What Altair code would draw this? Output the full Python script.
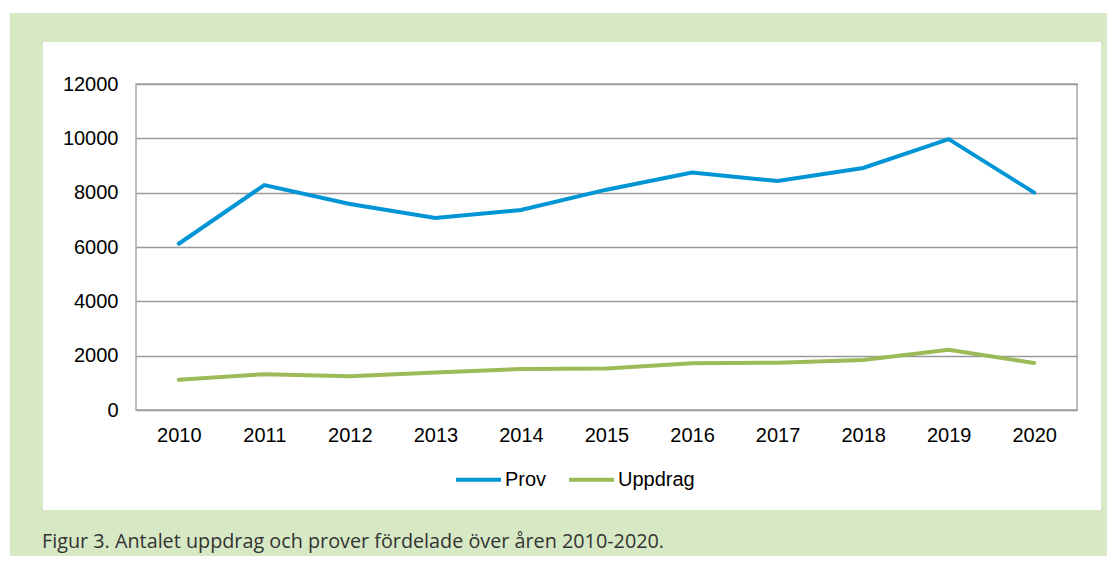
import altair as alt
import pandas as pd

years = ["2010", "2011", "2012", "2013", "2014", "2015", "2016", "2017", "2018", "2019", "2020"]
prov = [6120, 8280, 7580, 7070, 7360, 8110, 8740, 8430, 8910, 9970, 8000]
uppdrag = [1110, 1320, 1240, 1380, 1510, 1530, 1720, 1740, 1840, 2220, 1730]
series_names = ["Prov", "Uppdrag"]
series_colors = ["#0096d6", "#9bbb59"]
y_ticks = [0, 2000, 4000, 6000, 8000, 10000, 12000]
caption = "Figur 3. Antalet uppdrag och prover fördelade över åren 2010-2020."

rows = []
for i, yr in enumerate(years):
    rows.append({"year": yr, "series": series_names[0], "value": prov[i]})
    rows.append({"year": yr, "series": series_names[1], "value": uppdrag[i]})
df = pd.DataFrame(rows)

W, H = 941, 326
PAD_L, PAD_T, PAD_R, PAD_B = 128, 76, 30, 146
GREEN = "#d7e8c4"

one = pd.DataFrame({"k": [0]})


def strip(x1, x2, y1, y2):
    return alt.Chart(one).mark_rect(color=GREEN, clip=False).encode(
        x=alt.value(x1), x2=alt.value(x2), y=alt.value(y1), y2=alt.value(y2)
    )


# green frame around the white box
frame = [
    strip(-126, W + PAD_R, -71, -42),
    strip(-126, W + PAD_R, 426, H + PAD_B),
    strip(-126, -93, -42, 426),
    strip(965, W + PAD_R, -42, 426),
]

cap = alt.Chart(pd.DataFrame({"t": [caption]})).mark_text(
    align="left", baseline="alphabetic", font="Open Sans", fontSize=19.8, color="#333333"
).encode(x=alt.value(-94), y=alt.value(464), text="t:N")

lines = alt.Chart(df).mark_line(strokeWidth=4, strokeCap="round", strokeJoin="miter").encode(
    x=alt.X("year:O", sort=years, scale=alt.Scale(paddingInner=1, paddingOuter=0.5, padding=0.5),
            axis=alt.Axis(title=None, labelAngle=0, labelFont="Liberation Sans", labelFontSize=20,
                          labelColor="#000000", labelPadding=15, ticks=False, domain=False, grid=False)),
    y=alt.Y("value:Q", scale=alt.Scale(domain=[0, 12000], nice=False),
            axis=alt.Axis(title=None, values=y_ticks, format="d", labelFont="Liberation Sans",
                          labelFontSize=20, labelColor="#000000", labelPadding=18, ticks=False,
                          domain=False, gridColor="#9a9a9a", gridWidth=1.3)),
    color=alt.Color("series:N", scale=alt.Scale(domain=series_names, range=series_colors),
                    legend=alt.Legend(title=None, orient="none", direction="horizontal",
                                      legendX=318, legendY=45 + H, symbolType="stroke",
                                      symbolStrokeWidth=4, symbolSize=2025, labelFont="Liberation Sans",
                                      labelFontSize=20, labelColor="#000000", labelOffset=2,
                                      columnPadding=14, symbolOffset=0)),
)

chart = alt.layer(*frame, lines, cap).properties(
    width=W, height=H,
    autosize=alt.AutoSizeParams(type="none"),
    padding={"left": PAD_L, "top": PAD_T, "right": PAD_R, "bottom": PAD_B},
    background="white",
).configure_view(stroke="#a6a6a6", strokeWidth=1.5)

chart.save("out.html", embed_options={"renderer": "svg", "actions": False})
